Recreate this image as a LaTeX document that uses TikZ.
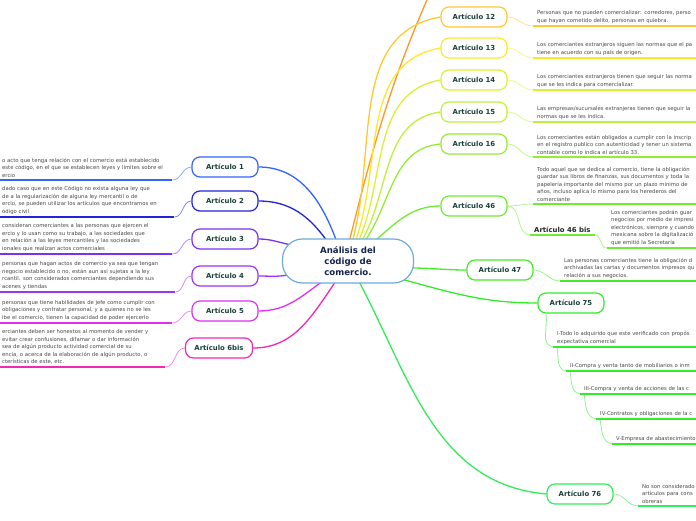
\documentclass[tikz,border=0pt]{standalone}
\usepackage{fontspec}
\setmainfont{DejaVu Sans}
\usetikzlibrary{backgrounds}

\definecolor{rootblue}{RGB}{110,170,220}
\definecolor{roottext}{RGB}{20,35,80}
\definecolor{labeltext}{RGB}{25,65,55}
\definecolor{desctext}{RGB}{70,70,70}
\definecolor{c1}{RGB}{50,100,255}
\definecolor{c2}{RGB}{35,35,220}
\definecolor{c3}{RGB}{120,50,240}
\definecolor{c4}{RGB}{160,50,240}
\definecolor{c5}{RGB}{220,50,240}
\definecolor{c6}{RGB}{240,40,180}
\definecolor{c11}{RGB}{255,150,40}
\definecolor{c12}{RGB}{255,200,50}
\definecolor{c13}{RGB}{255,232,40}
\definecolor{c14}{RGB}{220,240,50}
\definecolor{c15}{RGB}{190,240,60}
\definecolor{c16}{RGB}{150,236,50}
\definecolor{c46}{RGB}{110,236,50}
\definecolor{c47}{RGB}{70,236,40}
\definecolor{c75}{RGB}{50,236,40}
\definecolor{c76}{RGB}{50,236,90}

\tikzset{
  art/.style={draw=#1, line width=1.2pt, rounded corners=8pt, fill=white,
    minimum width=66pt, minimum height=20pt, inner xsep=9pt,
    font=\fontsize{6.9}{8}\selectfont\bfseries, text=labeltext},
  desc/.style={anchor=south west, align=left, inner xsep=4pt, inner ysep=2.5pt,
    font=\fontsize{5.3}{7.5}\selectfont, text=desctext},
  uline/.style={draw=#1, line width=2pt},
  link/.style={draw=#1, line width=1.3pt},
  sublink/.style={draw=#1!55, line width=0.8pt},
}

\begin{document}
\begin{tikzpicture}[x=1pt,y=1pt]
  \useasboundingbox (0,0) rectangle (696,520);
  % centre
  \node[draw=rootblue, line width=1.2pt, rounded corners=20pt, fill=white,
    minimum width=131pt, minimum height=44pt, align=center, text=roottext,
    font=\fontsize{8.6}{11}\selectfont\bfseries] (root) at (348,259)
    {Análisis del\\código de\\comercio.};

  % left branch
  \node[art=c1] (a1) at (225,353) {Artículo 1};
  \node[art=c2] (a2) at (225,319) {Artículo 2};
  \node[art=c3] (a3) at (225,281) {Artículo 3};
  \node[art=c4] (a4) at (225,244) {Artículo 4};
  \node[art=c5] (a5) at (225,209) {Artículo 5};
  \node[art=c6] (a6) at (219,172) {Artículo 6bis};

  \node[desc, text width=166pt] (d1) at (-2,340)
    {o acto que tenga relación con el comercio está establecido\\este código, en el que se establecen leyes y límites sobre el\\ercio};
  \node[desc, text width=168pt] (d2) at (-2,303)
    {dado caso que en este Código no exista alguna ley que\\de a la regularización de alguna ley mercantil o de\\ercio, se pueden utilizar los artículos que encontramos en\\ódigo civil};
  \node[desc, text width=166pt] (d3) at (-2,266)
    {consideran comerciantes a las personas que ejercen el\\ercio y lo usan como su trabajo, a las sociedades que\\en relación a las leyes mercantiles y las sociedades\\ionales que realizan actos comerciales};
  \node[desc, text width=169pt] (d4) at (-2,228)
    {personas que hagan actos de comercio ya sea que tengan\\negocio establecido o no, están aun así sujetas a la ley\\rcantil. son considerados comerciantes dependiendo sus\\acenes y tiendas};
  \node[desc, text width=166pt] (d5) at (-2,197)
    {personas que tiene habilidades de jefe como cumplir con\\obligaciones y contratar personal, y a quienes no se les\\ibe el comercio, tienen la capacidad de poder ejercerlo};
  \node[desc, text width=159pt] (d6) at (-2,153)
    {erciantes deben ser honestos al momento de vender y\\evitar crear confusiones, difamar o dar información\\sea de algún producto actividad comercial de su\\encia, o acerca de la elaboración de algún producto, o\\cterísticas de este, etc.};

  % right branch
  \node[art=c12] (a12) at (474,503) {Artículo 12};
  \node[art=c13] (a13) at (474,472) {Artículo 13};
  \node[art=c14] (a14) at (474,440) {Artículo 14};
  \node[art=c15] (a15) at (474,408) {Artículo 15};
  \node[art=c16] (a16) at (474,376) {Artículo 16};
  \node[art=c46] (a46) at (474,314) {Artículo 46};
  \node[art=c47] (a47) at (500,250) {Artículo 47};
  \node[art=c75] (a75) at (571,217) {Artículo 75};
  \node[art=c76] (a76) at (580,26) {Artículo 76};
  \coordinate (top11) at (445,560);

  \node[desc, text width=200pt] (d12) at (533,494)
    {Personas que no pueden comercializar: corredores, perso\\que hayan cometido delito, personas en quiebra.};
  \node[desc, text width=200pt] (d13) at (533,462)
    {Los comerciantes extranjeros siguen las normas que el pa\\tiene en acuerdo con su país de origen.};
  \node[desc, text width=200pt] (d14) at (533,430)
    {Los comerciantes extranjeros tienen que seguir las norma\\que se les indica para comercializar.};
  \node[desc, text width=200pt] (d15) at (533,398)
    {Las empresas/sucursales extranjeras tienen que seguir la\\normas que se les indica.};
  \node[desc, text width=200pt] (d16) at (533,363)
    {Los comerciantes están obligados a cumplir con la inscrip\\en el registro publico con autenticidad y tener un sistema\\contable como lo indica el artículo 33.};
  \node[desc, text width=200pt] (d46) at (533,316)
    {Todo aquel que se dedica al comercio, tiene la obligación\\guardar sus libros de finanzas, sus documentos y toda la\\papelería importante del mismo por un plazo mínimo de\\años, incluso aplica lo mismo para los herederos del\\comerciante};
  \node[desc, font=\fontsize{6.9}{8}\selectfont\bfseries, text=black!85] (s46) at (530,285) {Artículo 46 bis};
  \node[desc, text width=200pt] (d46b) at (607,272)
    {Los comerciantes podrán guar\\negocios por medio de impresi\\electrónicos, siempre y cuando\\mexicana sobre la digitalizació\\que emitió la Secretaría};
  \node[desc, text width=200pt] (d47) at (560,239)
    {Las personas comerciantes tiene la obligación d\\archivadas las cartas y documentos impresos qu\\relación a sus negocios.};
  \node[desc, text width=200pt] (d75a) at (553,173)
    {I-Todo lo adquirido que este verificado con propós\\expectativa comercial};
  \node[desc, text width=200pt] (d75b) at (566,149) {II-Compra y venta tanto de mobiliarios o inm};
  \node[desc, text width=200pt] (d75c) at (580,126) {III-Compra y venta de acciones de las c};
  \node[desc, text width=200pt] (d75d) at (596,101) {IV-Contratos y obligaciones de la c};
  \node[desc, text width=200pt] (d75e) at (612,76) {V-Empresa de abastecimiento};
  \node[desc, text width=200pt] (d76) at (638,14)
    {No son considerado\\artículos para cons\\obreras};

  % underlines
  \foreach \d/\c in {d1/c1,d2/c2,d3/c3,d4/c4,d5/c5,d6/c6,d12/c12,d13/c13,d14/c14,d15/c15,d16/c16,
      d46/c46,s46/c46,d46b/c46,d47/c47,d75a/c75,d75b/c75,d75c/c75,d75d/c75,d75e/c75,d76/c76}
    \draw[uline=\c] (\d.south west) -- (\d.south east);

  \begin{scope}[on background layer]
    % from the centre
    \draw[link=c1] (a1.east) to[out=0,in=110] ([xshift=-11,yshift=-4]root.north);
    \draw[link=c2] (a2.east) to[out=0,in=125] ([xshift=-20,yshift=-4]root.north);
    \draw[link=c3] (a3.east) to[out=0,in=170] ([xshift=10,yshift=16]root.west);
    \draw[link=c4] (a4.east) to[out=0,in=190] ([xshift=6,yshift=-14]root.west);
    \draw[link=c5] (a5.east) to[out=0,in=215] ([xshift=-23,yshift=4]root.south);
    \draw[link=c6] (a6.east) to[out=0,in=235] ([xshift=-11,yshift=4]root.south);
    \draw[link=c11] ([xshift=1,yshift=-4]root.north) to[out=76,in=245] (top11);
    \draw[link=c12] ([xshift=4,yshift=-4]root.north) to[out=74,in=190] (a12.west);
    \draw[link=c13] ([xshift=7,yshift=-4]root.north) to[out=70,in=190] (a13.west);
    \draw[link=c14] ([xshift=10,yshift=-4]root.north) to[out=66,in=190] (a14.west);
    \draw[link=c15] ([xshift=13,yshift=-4]root.north) to[out=60,in=188] (a15.west);
    \draw[link=c16] ([xshift=16,yshift=-4]root.north) to[out=55,in=185] (a16.west);
    \draw[link=c46] ([xshift=25,yshift=-4]root.north) to[out=40,in=180] (a46.west);
    \draw[link=c47] ([xshift=-4,yshift=-7]root.east) to[out=0,in=180] (a47.west);
    \draw[link=c75] ([xshift=55,yshift=4]root.south) to[out=-15,in=180] (a75.west);
    \draw[link=c76] ([xshift=10,yshift=4]root.south) to[out=-62,in=175] (a76.west);
    % to the notes
    \foreach \a/\d/\c in {a1/d1/c1,a2/d2/c2,a3/d3/c3,a4/d4/c4,a5/d5/c5,a6/d6/c6}
      \draw[sublink=\c] (\a.west) to[out=180,in=0] (\d.south east);
    \foreach \a/\d/\c in {a12/d12/c12,a13/d13/c13,a14/d14/c14,a15/d15/c15,a16/d16/c16,
        a46/d46/c46,a46/s46/c46,a47/d47/c47,a76/d76/c76}
      \draw[sublink=\c] (\a.east) to[out=0,in=180] (\d.south west);
    \draw[sublink=c46] (s46.south east) to[out=0,in=180] (d46b.south west);
    \draw[sublink=c75] ([xshift=-25]a75.south) to[out=-80,in=170] (d75a.south west);
    \draw[sublink=c75] ([xshift=4]d75a.south west) to[out=-80,in=170] (d75b.south west);
    \draw[sublink=c75] ([xshift=4]d75b.south west) to[out=-80,in=170] (d75c.south west);
    \draw[sublink=c75] ([xshift=4]d75c.south west) to[out=-80,in=170] (d75d.south west);
    \draw[sublink=c75] ([xshift=4]d75d.south west) to[out=-80,in=170] (d75e.south west);
  \end{scope}
\end{tikzpicture}
\end{document}
